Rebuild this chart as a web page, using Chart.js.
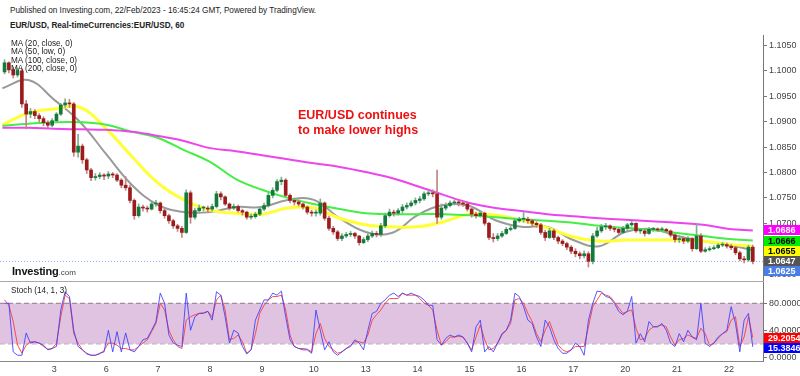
<!DOCTYPE html>
<html>
<head>
<meta charset="utf-8">
<script src="https://cdn.jsdelivr.net/npm/chart.js@4.4.0/dist/chart.umd.min.js"></script>
<style>
  html, body { margin: 0; padding: 0; background: #fff; }
  #wrap { position: relative; width: 800px; height: 376px; overflow: hidden; font-family: "Liberation Sans", Arial, sans-serif; }
  .t { position: absolute; white-space: nowrap; color: #222; }
  canvas { position: absolute; left: 0; }
</style>
</head>
<body>
<div id="wrap">
  <div class="t" style="left:10px;top:6px;font-size:8.2px;">Published on Investing.com, 22/Feb/2023 - 16:45:24 GMT, Powered by TradingView.</div>
  <div class="t" style="left:10px;top:20.5px;font-size:8.2px;font-weight:bold;">EUR/USD, Real-timeCurrencies:EUR/USD, 60</div>
  <canvas id="main" width="800" height="246" style="top:35px"></canvas>
  <div style="position:absolute;left:0;top:281px;width:764px;height:1px;background:#aaa"></div>
  <canvas id="stoch" width="800" height="94" style="top:282px"></canvas>
  <div class="t" style="left:11px;top:40px;font-size:8.2px;line-height:8.35px;">MA (20, close, 0)<br>MA (50, low, 0)<br>MA (100, close, 0)<br>MA (200, close, 0)</div>
  <div class="t" style="left:298px;top:108px;font-size:12.5px;line-height:15px;font-weight:bold;color:#ee1111;">EUR/USD continues<br>to make lower highs</div>
  <div class="t" style="left:12px;top:261px;color:#111;"><span style="font-size:11px;font-weight:bold;letter-spacing:-0.2px;">Investing</span><span style="font-size:8px;color:#444;">.com</span></div>
  <div class="t" style="left:11px;top:286px;font-size:8.2px;">Stoch (14, 1, 3)</div>
</div>
<script>
// 2-hour candles, 2 Feb 00:00 to 22 Feb ~12:00 (chart time)
const firstOpen = 1.0998;
const closes = [
  1.1016,1.1002,1.0992,1.1000,1.0935,1.0915,1.0920,1.0912,1.0906,1.0898,1.0893,1.0902,
  1.0915,1.0933,1.0937,1.0935,1.0840,1.0852,1.0825,1.0805,1.0790,1.0792,1.0795,1.0793,
  1.0797,1.0795,1.0785,1.0775,1.0770,1.0745,1.0715,1.0732,1.0730,1.0728,1.0738,1.0740,
  1.0725,1.0715,1.0705,1.0695,1.0690,1.0682,1.0760,1.0712,1.0725,1.0730,1.0730,1.0728,
  1.0733,1.0758,1.0752,1.0738,1.0730,1.0733,1.0725,1.0722,1.0712,1.0713,1.0718,1.0728,
  1.0735,1.0755,1.0765,1.0782,1.0785,1.0755,1.0745,1.0742,1.0738,1.0732,1.0722,1.0720,
  1.0720,1.0740,1.0710,1.0690,1.0683,1.0670,1.0675,1.0678,1.0680,1.0675,1.0662,1.0668,
  1.0675,1.0680,1.0678,1.0695,1.0715,1.0722,1.0720,1.0725,1.0732,1.0735,1.0740,1.0745,
  1.0748,1.0758,1.0760,1.0758,1.0712,1.0730,1.0735,1.0740,1.0742,1.0740,1.0738,1.0728,
  1.0718,1.0715,1.0720,1.0700,1.0672,1.0670,1.0675,1.0680,1.0688,1.0690,1.0705,1.0708,
  1.0708,1.0705,1.0700,1.0697,1.0682,1.0672,1.0685,1.0672,1.0665,1.0660,1.0653,1.0645,
  1.0640,1.0636,1.0640,1.0625,1.0675,1.0685,1.0693,1.0695,1.0690,1.0688,1.0682,1.0690,
  1.0697,1.0700,1.0685,1.0685,1.0680,1.0688,1.0688,1.0687,1.0688,1.0685,1.0677,1.0668,
  1.0670,1.0665,1.0670,1.0650,1.0675,1.0645,1.0648,1.0650,1.0652,1.0657,1.0658,1.0655,
  1.0652,1.0642,1.0630,1.0628,1.0653,1.0625
];
const highs = [
  1.1022,1.1018,1.1006,1.1006,1.1004,1.0942,1.0926,1.0924,1.0916,1.0910,1.0902,1.0906,
  1.0918,1.0936,1.0945,1.0944,1.0938,1.0875,1.0856,1.0828,1.0808,1.0798,1.0800,1.0798,
  1.0802,1.0800,1.0798,1.0788,1.0792,1.0775,1.0748,1.0738,1.0736,1.0734,1.0742,1.0745,
  1.0742,1.0728,1.0718,1.0708,1.0698,1.0694,1.0766,1.0764,1.0730,1.0736,1.0734,1.0734,
  1.0738,1.0763,1.0762,1.0754,1.0740,1.0738,1.0736,1.0728,1.0724,1.0718,1.0722,1.0732,
  1.0740,1.0760,1.0770,1.0786,1.0791,1.0788,1.0758,1.0750,1.0746,1.0740,1.0734,1.0726,
  1.0726,1.0748,1.0742,1.0714,1.0694,1.0686,1.0680,1.0682,1.0684,1.0682,1.0676,1.0672,
  1.0680,1.0685,1.0684,1.0700,1.0720,1.0728,1.0726,1.0729,1.0737,1.0740,1.0744,1.0750,
  1.0753,1.0762,1.0765,1.0766,1.0805,1.0738,1.0740,1.0744,1.0746,1.0745,1.0743,1.0740,
  1.0730,1.0722,1.0724,1.0722,1.0702,1.0680,1.0680,1.0684,1.0692,1.0694,1.0710,1.0712,
  1.0722,1.0712,1.0708,1.0703,1.0700,1.0686,1.0690,1.0688,1.0675,1.0668,1.0663,1.0656,
  1.0650,1.0644,1.0646,1.0644,1.0680,1.0692,1.0698,1.0700,1.0697,1.0694,1.0690,1.0694,
  1.0700,1.0704,1.0701,1.0690,1.0688,1.0692,1.0692,1.0691,1.0692,1.0690,1.0687,1.0680,
  1.0676,1.0673,1.0674,1.0672,1.0698,1.0680,1.0652,1.0654,1.0656,1.0660,1.0662,1.0661,
  1.0658,1.0655,1.0645,1.0635,1.0657,1.0657
];
const lows = [
  1.0994,1.0996,1.0986,1.0988,1.0928,1.0886,1.0908,1.0906,1.0900,1.0892,1.0886,1.0890,
  1.0898,1.0912,1.0928,1.0928,1.0832,1.0830,1.0818,1.0798,1.0784,1.0785,1.0788,1.0786,
  1.0788,1.0790,1.0782,1.0770,1.0765,1.0740,1.0708,1.0712,1.0724,1.0722,1.0726,1.0733,
  1.0720,1.0710,1.0700,1.0690,1.0684,1.0672,1.0680,1.0700,1.0708,1.0720,1.0724,1.0722,
  1.0724,1.0730,1.0746,1.0735,1.0726,1.0727,1.0722,1.0716,1.0708,1.0708,1.0710,1.0715,
  1.0725,1.0732,1.0750,1.0762,1.0776,1.0752,1.0740,1.0736,1.0734,1.0728,1.0718,1.0714,
  1.0714,1.0716,1.0706,1.0686,1.0678,1.0666,1.0666,1.0672,1.0674,1.0670,1.0657,1.0660,
  1.0664,1.0672,1.0673,1.0674,1.0692,1.0712,1.0714,1.0716,1.0720,1.0728,1.0732,1.0736,
  1.0740,1.0745,1.0754,1.0752,1.0700,1.0708,1.0726,1.0732,1.0736,1.0734,1.0733,1.0724,
  1.0712,1.0710,1.0712,1.0696,1.0668,1.0663,1.0666,1.0672,1.0678,1.0685,1.0688,1.0702,
  1.0702,1.0700,1.0695,1.0692,1.0678,1.0666,1.0670,1.0668,1.0660,1.0656,1.0648,1.0640,
  1.0634,1.0630,1.0632,1.0614,1.0620,1.0672,1.0682,1.0688,1.0686,1.0683,1.0678,1.0680,
  1.0685,1.0694,1.0682,1.0680,1.0675,1.0678,1.0684,1.0684,1.0684,1.0682,1.0673,1.0663,
  1.0662,1.0660,1.0662,1.0645,1.0648,1.0642,1.0643,1.0645,1.0648,1.0650,1.0654,1.0651,
  1.0648,1.0638,1.0626,1.0622,1.0625,1.0620
];

// moving averages, read every 12 hours
const maHours = [0,12,24,36,48,60,72,84,96,108,120,132,144,156,168,180,192,204,216,228,240,252,264,276,288,300,312,324,336,347];
const ma20 = [1.0966,1.0982,1.0943,1.0899,1.0836,1.0775,1.0736,1.0722,1.0722,1.0732,1.0732,1.0746,1.0746,1.0710,1.0683,
              1.0681,1.0716,1.0736,1.0734,1.0706,1.0693,1.0693,1.0667,1.0655,1.0683,1.0689,1.0675,1.0665,1.0657,1.0647];
const ma50 = [1.0894,1.0917,1.0925,1.0928,1.0886,1.0831,1.0779,1.0746,1.0726,1.0720,1.0718,1.0730,1.0730,1.0710,1.0697,
              1.0693,1.0693,1.0703,1.0718,1.0716,1.0706,1.0691,1.0673,1.0665,1.0667,1.0667,1.0667,1.0665,1.0659,1.0655];
const ma100 = [1.0892,1.0896,1.0899,1.0899,1.0894,1.0880,1.0868,1.0844,1.0821,1.0787,1.0766,1.0750,1.0738,1.0728,1.0720,
               1.0718,1.0718,1.0718,1.0716,1.0712,1.0708,1.0705,1.0701,1.0695,1.0691,1.0687,1.0681,1.0675,1.0669,1.0666];
const ma200 = [1.0888,1.0888,1.0886,1.0885,1.0884,1.0880,1.0872,1.0862,1.0848,1.0842,1.0834,1.0826,1.0818,1.0811,1.0801,
               1.0789,1.0773,1.0756,1.0740,1.0730,1.0724,1.0718,1.0714,1.0710,1.0707,1.0704,1.0701,1.0697,1.0689,1.0686];

// stochastic (14, 1, 3), one value per 2-hour candle
const pctK = [
  80,80,8,3,3,36,21,23,21,18,11,13,
  16,70,97,90,40,16,11,5,3,3,6,8,
  40,8,38,8,36,11,8,16,26,28,40,53,
  95,80,33,21,18,16,95,40,60,65,65,68,
  55,97,92,60,21,40,36,16,5,11,55,70,
  85,85,95,92,98,60,26,16,13,11,11,6,
  70,40,11,23,8,3,8,13,16,26,21,11,
  40,65,68,80,85,92,95,90,95,92,95,92,
  90,85,77,77,26,18,28,33,30,33,30,21,
  8,45,55,8,16,8,21,35,40,55,95,90,
  75,55,50,30,16,55,45,26,13,6,6,11,
  21,16,3,55,80,98,97,90,88,80,68,63,
  68,90,21,35,23,53,45,45,50,40,21,16,
  35,23,40,30,26,80,21,16,21,30,35,40,
  75,50,8,55,65,15.3846
];
const pctD = [
  85,77,53,18,6,18,23,23,21,16,12,13,
  21,60,92,87,35,21,11,6,3,3,5,10,
  21,21,18,13,13,11,11,16,21,26,38,50,
  80,70,40,26,16,13,55,60,63,65,66,68,
  60,85,92,70,26,28,33,23,6,11,35,65,
  77,85,90,90,92,70,33,16,13,13,12,8,
  35,50,28,16,11,6,8,13,18,23,23,21,
  33,55,63,70,80,87,87,87,95,92,92,92,
  87,80,77,70,40,18,23,30,30,31,30,21,
  11,30,48,26,11,13,21,33,40,50,85,87,
  80,65,53,35,23,40,53,35,18,11,8,11,
  16,16,16,45,75,85,95,92,90,82,73,65,
  68,70,43,26,28,40,45,46,48,45,30,18,
  26,28,33,30,28,43,35,18,21,28,35,38,
  55,60,16,30,60,29.2054
];

const dayHours = [24,48,72,96,120,144,168,192,216,240,264,288,312,336];
const dayLabels = ['3','6','7','8','9','10','13','14','15','16','17','20','21','22'];
const priceTicks = { min: 1.05864, max: 1.10707, step: 0.005 };

const X_MIN = -1.11, X_MAX = 351.72;
const FONT = '"Liberation Sans", Arial, sans-serif';
Chart.defaults.font.family = FONT;

const opens = closes.map((c, i) => i === 0 ? firstOpen : closes[i - 1]);
const candleX = closes.map((c, i) => 2 * i + 1);
const up = closes.map((c, i) => c >= opens[i]);
const last = closes[closes.length - 1];

function fixWidth(w) {
  return s => { s.width = w; s.paddingTop = 0; s.paddingBottom = 0; };
}

function tagPlugin(items) {
  return {
    id: 'tags',
    afterDraw(chart) {
      const { ctx, chartArea, scales: { y } } = chart;
      const list = items.map(t => Object.assign({}, t, { py: y.getPixelForValue(t.value) }))
        .sort((a, b) => a.py - b.py);
      let prev = -1e9;
      list.forEach(t => { if (t.py < prev + 10) t.py = prev + 10; prev = t.py; });
      ctx.save();
      ctx.font = 'bold 9px ' + FONT;
      ctx.textBaseline = 'middle';
      list.forEach(t => {
        ctx.fillStyle = t.bg;
        ctx.fillRect(chartArea.right + 1, Math.round(t.py - 5), 40, 10);
        ctx.fillStyle = t.fg;
        ctx.fillText(t.value.toFixed(4), chartArea.right + 5, t.py + 0.5);
      });
      ctx.restore();
    }
  };
}

const maLine = (vals, color, w) => ({
  type: 'line',
  data: maHours.map((h, i) => ({ x: h, y: vals[i] })),
  borderColor: color, borderWidth: w, pointRadius: 0, tension: 0.4, fill: false, order: 2
});

new Chart(document.getElementById('main'), {
  type: 'bar',
  data: {
    datasets: [
      {
        data: candleX.map((x, i) => ({ x, y: [lows[i], highs[i]] })),
        backgroundColor: up.map(u => u ? '#7fb08f' : '#c08585'),
        barThickness: 1, grouped: false, order: 1
      },
      {
        data: candleX.map((x, i) => ({ x, y: [opens[i], closes[i]] })),
        backgroundColor: up.map(u => u ? '#137a3c' : '#9c1c1c'),
        barThickness: 3, minBarLength: 1, grouped: false, order: 0
      },
      maLine(ma200, '#ee44ee', 2),
      maLine(ma100, '#44ee44', 2),
      maLine(ma50, '#ffff33', 3),
      maLine(ma20, '#9a9a9a', 2),
      {
        type: 'line',
        data: [{ x: X_MIN, y: last }, { x: X_MAX, y: last }],
        borderColor: '#86a6ee', borderWidth: 1, borderDash: [1, 2], pointRadius: 0, order: 3
      }
    ]
  },
  options: {
    responsive: false, animation: false,
    layout: { padding: 0 },
    plugins: { legend: { display: false }, tooltip: { enabled: false } },
    scales: {
      x: { type: 'linear', min: X_MIN, max: X_MAX, offset: false, display: false },
      y: {
        position: 'right', min: priceTicks.min, max: priceTicks.max,
        afterFit: fixWidth(37),
        grid: { drawOnChartArea: false, drawTicks: true, tickLength: 4, color: '#777' },
        border: { color: '#777' },
        ticks: { stepSize: priceTicks.step, includeBounds: false, padding: 2, color: '#444', font: { size: 9 },
                 callback: v => v.toFixed(4) }
      }
    }
  },
  plugins: [tagPlugin([
    { value: ma200[ma200.length - 1], bg: '#ff00ff', fg: '#fff' },
    { value: ma100[ma100.length - 1], bg: '#00ee00', fg: '#000' },
    { value: ma50[ma50.length - 1], bg: '#ffff00', fg: '#000' },
    { value: ma20[ma20.length - 1], bg: '#555555', fg: '#fff' },
    { value: last, bg: '#4a7ee6', fg: '#fff' }
  ])]
});

const level = (v, fill) => ({
  data: [{ x: X_MIN, y: v }, { x: X_MAX, y: v }],
  borderColor: '#8a7a8a', borderWidth: 1, borderDash: [5, 3], pointRadius: 0,
  fill: fill, backgroundColor: '#dfc3e0', order: 3
});

new Chart(document.getElementById('stoch'), {
  type: 'line',
  data: {
    datasets: [
      level(80, { value: 20 }),
      level(20, false),
      { data: candleX.map((x, i) => ({ x, y: pctD[i] })), borderColor: 'rgba(255,60,60,0.9)', borderWidth: 1, pointRadius: 0, order: 1 },
      { data: candleX.map((x, i) => ({ x, y: pctK[i] })), borderColor: 'rgba(60,60,255,0.85)', borderWidth: 1, pointRadius: 0, order: 0 }
    ]
  },
  options: {
    responsive: false, animation: false,
    layout: { padding: 0 },
    plugins: { legend: { display: false }, tooltip: { enabled: false } },
    scales: {
      x: {
        type: 'linear', min: X_MIN, max: X_MAX,
        afterBuildTicks: s => { s.ticks = dayHours.map(v => ({ value: v })); },
        afterFit: s => { s.height = 15; s.paddingLeft = 0; s.paddingRight = 0; },
        grid: { drawOnChartArea: false, drawTicks: false },
        border: { color: '#888' },
        ticks: { padding: 3, color: '#444', font: { size: 9 }, maxRotation: 0, autoSkip: false,
                 callback: v => dayLabels[dayHours.indexOf(v)] }
      },
      y: {
        position: 'right', min: -5.5, max: 111.5,
        afterFit: fixWidth(37),
        grid: { drawOnChartArea: false, drawTicks: true, tickLength: 4, color: '#777' },
        border: { color: '#777' },
        ticks: { stepSize: 40, includeBounds: false, padding: 2, color: '#444', font: { size: 9 },
                 callback: v => v.toFixed(4) }
      }
    }
  },
  plugins: [tagPlugin([
    { value: pctD[pctD.length - 1], bg: '#ff0000', fg: '#fff' },
    { value: pctK[pctK.length - 1], bg: '#0000ff', fg: '#fff' }
  ])]
});
</script>
</body>
</html>
